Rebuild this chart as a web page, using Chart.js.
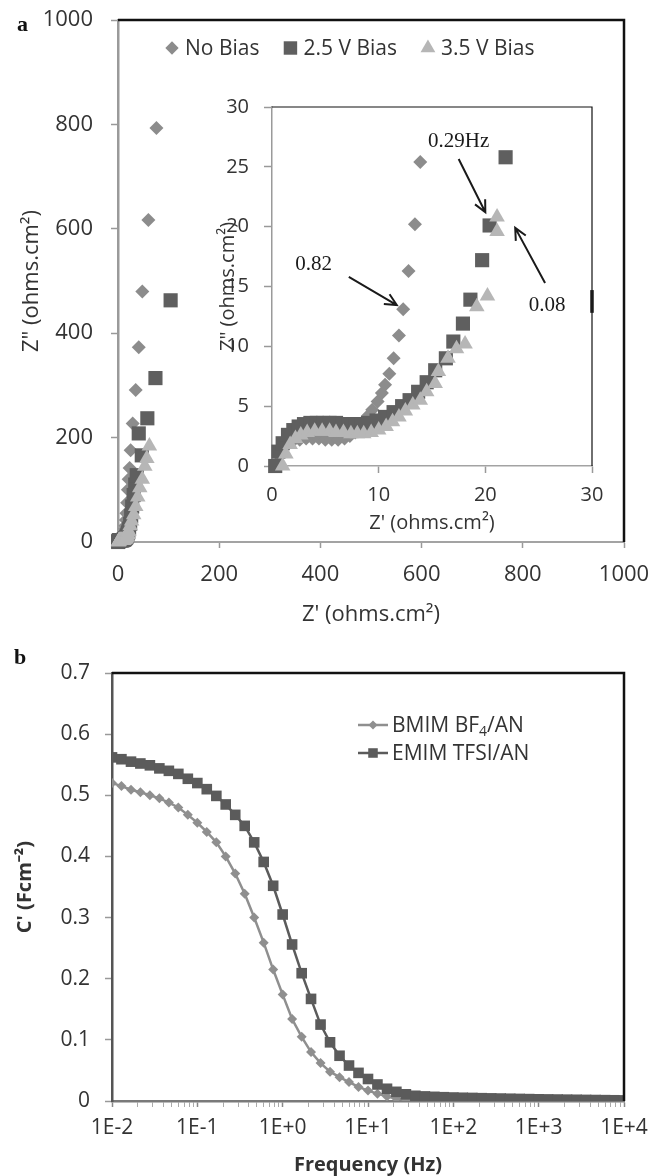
<!DOCTYPE html>
<html>
<head>
<meta charset="utf-8">
<script src="https://cdn.jsdelivr.net/npm/chart.js@4.4.1/dist/chart.umd.min.js"></script>
<style>
  html, body { margin: 0; padding: 0; background: #fff; }
  #page { position: relative; width: 651px; height: 1176px; overflow: hidden; background: #fff; }
  canvas { position: absolute; }
  .panel { position: absolute; font-family: 'Liberation Serif', serif; font-weight: bold; font-size: 22px; color: #111; line-height: 1; }
</style>
</head>
<body>
<div id="page">
  <canvas id="mainChart" width="651" height="640" style="left:0;top:0"></canvas>
  <canvas id="insetChart" width="400" height="470" style="left:210px;top:80px"></canvas>
  <canvas id="capChart" width="651" height="536" style="left:0;top:640px"></canvas>
  <div class="panel" style="left:17px;top:13px">a</div>
  <div class="panel" style="left:14px;top:646px">b</div>
</div>
<script>
// ---- panel a: Nyquist data, Z' / Z'' in ohms.cm2 ----
const seriesNames = ['No Bias', '2.5 V Bias', '3.5 V Bias'];

const noBiasX = [0.3, 0.6, 1.0, 1.5, 2.0, 2.6, 3.2, 3.8, 4.4, 5.0, 5.6, 6.2, 6.8, 7.3, 7.8,
  8.2, 8.6, 9.0, 9.4, 9.9, 10.3, 10.6, 11.0, 11.4, 11.9, 12.3, 12.8, 13.4, 13.9, 14.5,
  15.5, 16.5, 18, 19.5, 21, 23, 25, 29, 35, 41, 48, 60, 76];
const noBiasY = [0.0, 0.9, 1.5, 1.9, 2.1, 2.2, 2.3, 2.3, 2.3, 2.2, 2.2, 2.2, 2.3, 2.5, 2.8,
  3.2, 3.7, 4.2, 4.7, 5.4, 6.1, 6.8, 7.7, 9.0, 10.9, 13.1, 16.3, 20.2, 25.4, 31,
  42, 55, 75, 100, 120, 142, 176, 227, 291, 373, 480, 617, 793];

const bias25X = [0.3, 0.6, 1.0, 1.5, 2.0, 2.5, 3.0, 3.6, 4.2, 4.8, 5.4, 6.0, 6.6, 7.2, 7.8,
  8.4, 9.0, 9.8, 10.6, 11.4, 12.2, 12.9, 13.7, 14.5, 15.3, 16.3, 17.0, 17.9, 18.6, 19.7,
  20.4, 21.9, 24, 26, 28, 31, 34, 37, 47, 41, 58, 74, 104];
const bias25Y = [0.0, 1.2, 1.9, 2.6, 3.0, 3.3, 3.5, 3.6, 3.6, 3.6, 3.6, 3.6, 3.5, 3.5, 3.5,
  3.5, 3.6, 3.8, 4.1, 4.5, 5.0, 5.5, 6.2, 7.0, 8.0, 9.0, 10.4, 11.9, 13.9, 17.2,
  20.1, 25.8, 35, 50, 68, 90, 110, 128, 166, 208, 237, 314, 463];

const bias35X = [1.0, 1.3, 1.7, 2.2, 2.7, 3.3, 4.0, 4.7, 5.4, 6.0, 6.7, 7.4, 8.0, 8.6, 9.3,
  10.0, 10.7, 11.3, 11.9, 12.5, 13.2, 13.9, 14.5, 15.3, 15.6, 16.5, 17.3, 18.1, 19.2, 20.2,
  21.1, 21.1, 24, 27, 31, 35, 39, 43, 48, 53, 57, 62];
const bias35Y = [0.0, 1.0, 1.8, 2.3, 2.6, 2.8, 2.9, 2.9, 2.9, 2.8, 2.8, 2.7, 2.7, 2.7, 2.8,
  3.0, 3.3, 3.7, 4.1, 4.6, 5.1, 5.5, 6.2, 6.9, 7.9, 9.0, 9.8, 10.2, 13.3, 14.2,
  19.6, 20.8, 31, 40, 52, 68, 86, 104, 120, 145, 160, 184];

// ---- panel b: C' (F/cm2) against frequency (Hz) ----
const capNames = ['BMIM BF4/AN', 'EMIM TFSI/AN'];

const freqHz = [0.01, 0.0129, 0.0167, 0.0215, 0.0278, 0.0359, 0.0464, 0.0599, 0.0774,
  0.1, 0.129, 0.167, 0.215, 0.278, 0.359, 0.464, 0.599, 0.774,
  1, 1.29, 1.67, 2.15, 2.78, 3.59, 4.64, 5.99, 7.74,
  10, 12.9, 16.7, 21.5, 27.8, 35.9, 46.4, 59.9, 77.4,
  100, 129, 167, 215, 278, 359, 464, 599, 774,
  1000, 1290, 1670, 2150, 2780, 3590, 4640, 5990, 7740, 10000];
const bmimC = [0.520, 0.515, 0.509, 0.505, 0.500, 0.495, 0.488, 0.480, 0.468,
  0.455, 0.440, 0.423, 0.400, 0.372, 0.339, 0.300, 0.259, 0.215,
  0.174, 0.134, 0.105, 0.080, 0.062, 0.048, 0.039, 0.031, 0.023,
  0.017, 0.012, 0.0075, 0.004, 0.0025, 0.002, 0.0018, 0.0016, 0.0015,
  0.0014, 0.0013, 0.0012, 0.0011, 0.001, 0.001, 0.001, 0.0009, 0.0009,
  0.0008, 0.0008, 0.0007, 0.0007, 0.0006, 0.0006, 0.0005, 0.0005, 0.0005, 0.0004];
const emimC = [0.562, 0.559, 0.555, 0.552, 0.549, 0.544, 0.540, 0.535, 0.527,
  0.520, 0.510, 0.499, 0.485, 0.468, 0.450, 0.423, 0.391, 0.352,
  0.305, 0.256, 0.209, 0.167, 0.125, 0.096, 0.074, 0.058, 0.046,
  0.036, 0.027, 0.020, 0.015, 0.011, 0.0085, 0.0075, 0.0068, 0.0062,
  0.0057, 0.0053, 0.0050, 0.0046, 0.0043, 0.0040, 0.0037, 0.0034, 0.0031,
  0.0028, 0.0026, 0.0024, 0.0022, 0.0020, 0.0018, 0.0016, 0.0014, 0.0012, 0.0010];

// ---- shared styling ----
Chart.defaults.font.family = "'Open Sans', sans-serif";
Chart.defaults.color = '#333';
Chart.defaults.animation = false;
Chart.defaults.plugins.legend.display = false;
Chart.defaults.plugins.tooltip.enabled = false;

const INK = '#333';
const pts = (xs, ys) => xs.map((x, i) => ({ x, y: ys[i] }));

function marker(ctx, style, x, y, r, color) {
  ctx.fillStyle = color;
  ctx.beginPath();
  if (style === 'rectRot') {
    ctx.moveTo(x - r, y); ctx.lineTo(x, y - r); ctx.lineTo(x + r, y); ctx.lineTo(x, y + r);
  } else if (style === 'rect') {
    const s = r * Math.SQRT1_2;
    ctx.rect(x - s, y - s, 2 * s, 2 * s);
  } else {
    ctx.moveTo(x, y - r); ctx.lineTo(x + r * 0.866, y + r / 2); ctx.lineTo(x - r * 0.866, y + r / 2);
  }
  ctx.closePath();
  ctx.fill();
}

// fixed box sizes, and no extra room asked for by overhanging tick labels
function fixSize(w, h) {
  return s => {
    if (w) s.width = w;
    if (h) s.height = h;
    s.paddingTop = 0; s.paddingBottom = 0; s.paddingLeft = 0; s.paddingRight = 0;
  };
}

// black top + right edges of the plot box
const frame = {
  id: 'frame',
  afterDatasetsDraw(chart, args, opts) {
    const { ctx, chartArea: a } = chart;
    ctx.save();
    ctx.strokeStyle = '#111';
    ctx.lineWidth = opts.width || 2;
    ctx.beginPath();
    ctx.moveTo(a.left, a.top); ctx.lineTo(a.right, a.top); ctx.lineTo(a.right, a.bottom);
    ctx.stroke();
    ctx.restore();
  }
};

function nyquistSets(clip) {
  const styles = [['rectRot', 7, '#8c8c8c', 3], ['rect', 10, '#5f5f5f', 2], ['triangle', 9, '#b6b6b6', 1]];
  const data = [pts(noBiasX, noBiasY), pts(bias25X, bias25Y), pts(bias35X, bias35Y)];
  return data.map((d, i) => {
    const [style, r, color, order] = styles[i];
    return {
      label: seriesNames[i], data: d, pointStyle: style, pointRadius: r, pointHoverRadius: r,
      backgroundColor: color, pointBackgroundColor: color, borderWidth: 0, pointBorderWidth: 0,
      showLine: false, order, clip
    };
  });
}

function linAxis(min, max, step, size, o) {
  return {
    type: 'linear', min, max,
    ticks: { stepSize: step, padding: o.pad, font: { size }, color: INK, callback: v => String(v) },
    grid: { drawOnChartArea: false, tickLength: o.tick, tickColor: '#999', tickWidth: 1.5 },
    border: { color: o.line, width: o.lw },
    title: { display: true, text: o.title, font: { size }, color: INK },
    afterFit: o.fit
  };
}

// ---- panel a main ----
const topLegend = {
  id: 'topLegend',
  afterDraw(chart) {
    const ctx = chart.ctx;
    ctx.save();
    ctx.font = "21px 'Open Sans', sans-serif";
    ctx.textBaseline = 'middle';
    let x = 172;
    const y = 48;
    chart.data.datasets.forEach(ds => {
      marker(ctx, ds.pointStyle, x, y, ds.pointRadius * 0.95, ds.backgroundColor);
      ctx.fillStyle = INK;
      ctx.fillText(ds.label, x + 13, y + 1);
      x += 13 + ctx.measureText(ds.label).width + 31;
    });
    ctx.restore();
  }
};

new Chart(document.getElementById('mainChart'), {
  type: 'scatter',
  data: { datasets: nyquistSets({ left: 12, bottom: 12, top: 0, right: 0 }) },
  options: {
    responsive: false, devicePixelRatio: 1,
    layout: { padding: { left: 15, top: 20, right: 27, bottom: 8 } },
    scales: {
      x: linAxis(0, 1000, 200, 22, { pad: 14, tick: 6, line: '#a3a3a3', lw: 2, title: "Z' (ohms.cm²)", fit: fixSize(0, 90) }),
      y: linAxis(0, 1000, 200, 22, { pad: 18, tick: 7, line: '#9a9a9a', lw: 2.5, title: 'Z" (ohms.cm²)', fit: fixSize(103, 0) })
    },
    plugins: { frame: { width: 2.5 } }
  },
  plugins: [frame, topLegend]
});

// ---- panel a inset ----
const insetNotes = {
  id: 'insetNotes',
  afterDraw(chart) {
    const { ctx, scales: { x: sx, y: sy }, chartArea: a } = chart;
    const px = (v) => sx.getPixelForValue(v);
    const py = (v) => sy.getPixelForValue(v);
    ctx.save();
    ctx.fillStyle = '#1a1a1a';
    ctx.strokeStyle = '#1a1a1a';
    ctx.font = "21px 'Liberation Serif', serif";
    ctx.textAlign = 'center';
    ctx.textBaseline = 'middle';
    [['0.82', 3.9, 16.8], ['0.29Hz', 17.5, 27.1], ['0.08', 25.8, 13.4]].forEach(([t, x, y]) => ctx.fillText(t, px(x), py(y)));
    ctx.lineWidth = 2;
    [[7.2, 15.8, 11.7, 13.45], [17.5, 25.65, 20.0, 21.2], [25.6, 15.3, 22.8, 19.9]].forEach(([x0, y0, x1, y1]) => {
      const ax = px(x0), ay = py(y0), bx = px(x1), by = py(y1);
      const ang = Math.atan2(by - ay, bx - ax);
      ctx.beginPath();
      ctx.moveTo(ax, ay); ctx.lineTo(bx, by);
      ctx.moveTo(bx - 13 * Math.cos(ang - 0.45), by - 13 * Math.sin(ang - 0.45));
      ctx.lineTo(bx, by);
      ctx.lineTo(bx - 13 * Math.cos(ang + 0.45), by - 13 * Math.sin(ang + 0.45));
      ctx.stroke();
    });
    // dark mark on the right edge
    ctx.lineWidth = 3.5;
    ctx.beginPath();
    ctx.moveTo(a.right, py(14.7)); ctx.lineTo(a.right, py(12.8));
    ctx.stroke();
    ctx.restore();
  }
};

new Chart(document.getElementById('insetChart'), {
  type: 'scatter',
  data: { datasets: nyquistSets({ left: 10, bottom: 10, top: 0, right: 0 }) },
  options: {
    responsive: false, devicePixelRatio: 1,
    layout: { padding: { left: 2, top: 27, right: 18, bottom: 11 } },
    scales: {
      x: linAxis(0, 30, 10, 20, { pad: 10, tick: 7, line: '#a3a3a3', lw: 1.5, title: "Z' (ohms.cm²)", fit: fixSize(0, 73) }),
      y: linAxis(0, 30, 5, 20, { pad: 15, tick: 8, line: '#9a9a9a', lw: 1.5, title: 'Z" (ohms.cm²)', fit: fixSize(60, 0) })
    },
    plugins: { frame: { width: 1.2 } }
  },
  plugins: [frame, insetNotes]
});

// ---- panel b ----
const capLegend = {
  id: 'capLegend',
  afterDraw(chart) {
    const ctx = chart.ctx;
    ctx.save();
    ctx.textBaseline = 'middle';
    chart.data.datasets.forEach((ds, i) => {
      const y = 85 + i * 28;
      ctx.strokeStyle = ds.borderColor;
      ctx.lineWidth = ds.borderWidth;
      ctx.beginPath(); ctx.moveTo(358, y); ctx.lineTo(388, y); ctx.stroke();
      marker(ctx, ds.pointStyle, 373, y, ds.pointRadius * 0.9, ds.borderColor);
      ctx.fillStyle = INK;
      ctx.font = "21px 'Open Sans', sans-serif";
      let x = 392;
      const label = ds.label;
      if (label.startsWith('BMIM BF4')) {
        ctx.fillText('BMIM BF', x, y + 1);
        x += ctx.measureText('BMIM BF').width;
        ctx.font = "14px 'Open Sans', sans-serif";
        ctx.fillText('4', x, y + 7);
        x += ctx.measureText('4').width;
        ctx.font = "21px 'Open Sans', sans-serif";
        ctx.fillText(label.slice(8), x, y + 1);
      } else {
        ctx.fillText(label, x, y + 1);
      }
    });
    ctx.restore();
  }
};

const logTicks = [];
for (let e = -2; e <= 4; e++) {
  for (let m = 1; m <= 9; m++) {
    if (e === 4 && m > 1) break;
    logTicks.push(+(m * Math.pow(10, e)).toPrecision(3));
  }
}
const isDecade = v => Math.abs(Math.log10(v) - Math.round(Math.log10(v))) < 1e-6;

new Chart(document.getElementById('capChart'), {
  type: 'line',
  data: {
    datasets: [
      { label: capNames[0], data: pts(freqHz, bmimC), borderColor: '#8f8f8f', backgroundColor: '#8f8f8f',
        borderWidth: 2.5, pointStyle: 'rectRot', pointRadius: 5, pointHoverRadius: 5, pointBorderWidth: 0, order: 2 },
      { label: capNames[1], data: pts(freqHz, emimC), borderColor: '#5b5b5b', backgroundColor: '#5b5b5b',
        borderWidth: 2.5, pointStyle: 'rect', pointRadius: 7.5, pointHoverRadius: 7.5, pointBorderWidth: 0, order: 1 }
    ]
  },
  options: {
    responsive: false, devicePixelRatio: 1,
    layout: { padding: { left: 9, top: 33, right: 27, bottom: 0 } },
    scales: {
      x: {
        type: 'logarithmic', min: 0.01, max: 10000,
        afterBuildTicks: s => { s.ticks = logTicks.map(v => ({ value: v, major: isDecade(v) })); },
        ticks: {
          autoSkip: false, maxRotation: 0, padding: 8, font: { size: 21 }, color: INK,
          callback: v => {
            if (!isDecade(v)) return '';
            const e = Math.round(Math.log10(v));
            return '1E' + (e < 0 ? '-' : '+') + Math.abs(e);
          }
        },
        grid: { drawOnChartArea: false, tickLength: 6,
          tickColor: c => (c.tick && c.tick.major ? '#888' : '#aaa'),
          tickWidth: c => (c.tick && c.tick.major ? 1.5 : 1) },
        border: { color: '#7a7a7a', width: 2.5 },
        title: { display: true, text: 'Frequency (Hz)', padding: 0, font: { size: 20, weight: 'bold', lineHeight: 1.1 }, color: INK },
        afterFit: fixSize(0, 75)
      },
      y: {
        min: 0, max: 0.7,
        ticks: { stepSize: 0.1, padding: 15, font: { size: 21 }, color: INK },
        grid: { drawOnChartArea: false, tickLength: 7, tickColor: '#999', tickWidth: 1.5 },
        border: { color: '#555', width: 2.5 },
        title: { display: true, text: "C' (Fcm⁻²)", font: { size: 20, weight: 'bold' }, color: INK },
        afterFit: fixSize(103, 0)
      }
    },
    plugins: { frame: { width: 2.5 } }
  },
  plugins: [frame, capLegend]
});
</script>
</body>
</html>
